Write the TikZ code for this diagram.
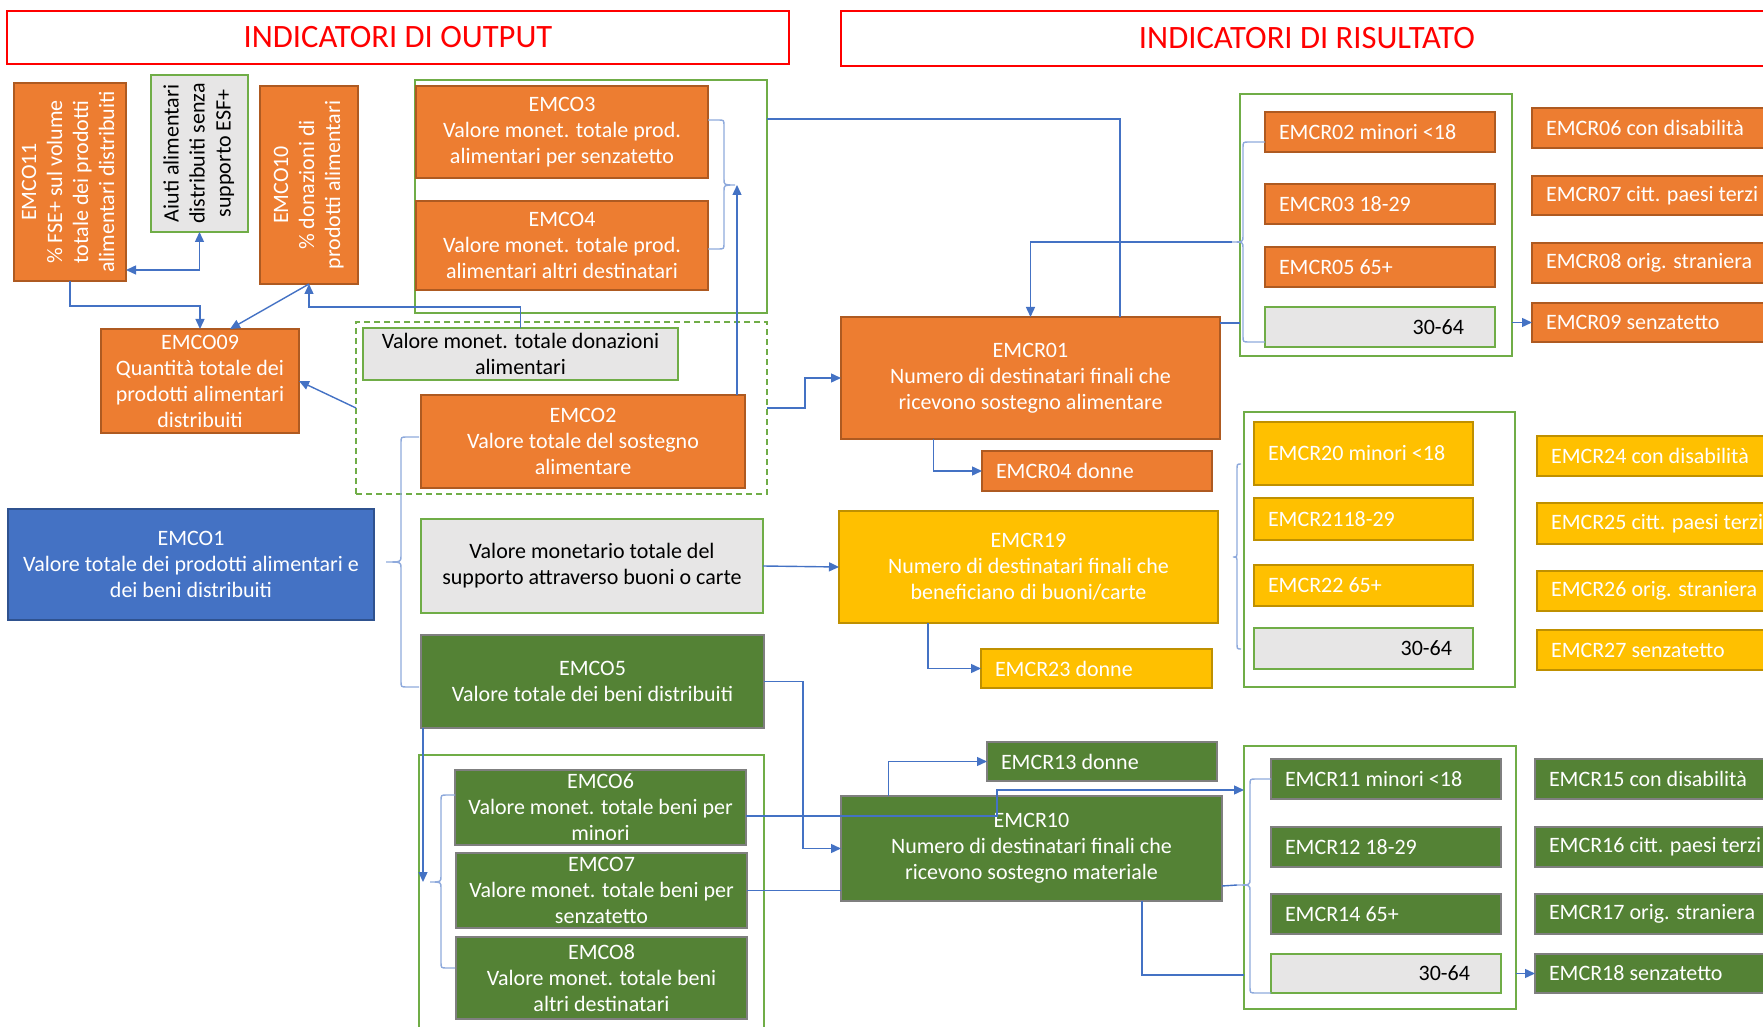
\documentclass[tikz,border=0pt]{standalone}
\usepackage{fontspec}
\setmainfont{Carlito}
\usepackage{graphicx}
\usetikzlibrary{arrows.meta,calc}
\definecolor{orF}{HTML}{ED7D31}
\definecolor{orD}{HTML}{AE5A21}
\definecolor{ylF}{HTML}{FFC000}
\definecolor{ylD}{HTML}{BF9000}
\definecolor{grF}{HTML}{548235}
\definecolor{grD}{HTML}{7F7F7F}
\definecolor{blF}{HTML}{4472C4}
\definecolor{blD}{HTML}{2F528F}
\definecolor{gyF}{HTML}{E7E6E6}
\definecolor{grpG}{HTML}{70AD47}
\definecolor{lnB}{HTML}{4472C4}
\definecolor{brB}{HTML}{8FAADC}
\definecolor{ttR}{HTML}{FF0000}
\tikzset{
 base/.style={inner sep=0pt, outer sep=0pt, line width=1pt, font=\fontsize{11}{13}\selectfont, align=center},
 orbox/.style={base, fill=orF, draw=orD, text=white},
 ylbox/.style={base, fill=ylF, draw=ylD, text=white},
 grbox/.style={base, fill=grF, draw=grD, text=white},
 blbox/.style={base, fill=blF, draw=blD, text=white},
 gybox/.style={base, fill=gyF, draw=grpG, text=black},
 grp/.style={base, draw=grpG},
 grpdash/.style={grp, dash pattern=on 3pt off 2pt},
 titlebox/.style={base, draw=ttR, text=ttR, font=\fontsize{16.3}{19}\selectfont},
 conn/.style={draw=lnB, line width=0.7pt},
 arr/.style={conn, -{Triangle[length=5pt,width=4.5pt]}},
 darr/.style={conn, {Triangle[length=5pt,width=4.5pt]}-{Triangle[length=5pt,width=4.5pt]}},
 brc/.style={draw=brB, line width=0.7pt},
}
\newcommand{\mkbox}[7]{\pgfmathsetmacro{\mybw}{((#5)-(#3))*0.5}\pgfmathsetmacro{\mybh}{((#6)-(#4))*0.5}%
 \node[#2, minimum width=\mybw pt, minimum height=\mybh pt] (#1) at ({((#3)+(#5))/2},{((#4)+(#6))/2}) {#7};}
\newcommand{\mklbox}[7]{\pgfmathsetmacro{\mybw}{((#5)-(#3))*0.5}\pgfmathsetmacro{\mybh}{((#6)-(#4))*0.5}\pgfmathsetmacro{\mytw}{((#5)-(#3)-28)*0.5}%
 \node[#2, align=flush left, inner xsep=7pt, text width=\mytw pt, minimum width=\mybw pt, minimum height=\mybh pt] (#1) at ({((#3)+(#5))/2},{((#4)+(#6))/2}) {#7};}
\newcommand{\mkrtbox}[6]{\pgfmathsetmacro{\mybw}{((#4)-(#2))*0.5}\pgfmathsetmacro{\mybh}{((#5)-(#3))*0.5}\pgfmathsetmacro{\mytw}{((#4)-(#2)-2*(#6))*0.5}\pgfmathsetmacro{\mypad}{(#6)*0.5}%
 \node[gybox, align=flush right, inner xsep=\mypad pt, text width=\mytw pt, minimum width=\mybw pt, minimum height=\mybh pt] (#1) at ({((#2)+(#4))/2},{((#3)+(#5))/2}) {30-64};}
\newcommand{\mkbrace}[7]{%
 \draw[brc] (#1,#2) -- ({#4+(#7)},#2) .. controls (#4,#2) .. (#4,{#2+6}) -- (#4,{#6-6}) .. controls (#4,#6) .. (#5,#6) .. controls (#4,#6) .. (#4,{#6+6}) -- (#4,{#3-6}) .. controls (#4,#3) .. ({#4+(#7)},#3) -- (#1,#3);}
\begin{document}
\begin{tikzpicture}[x=0.5pt,y=-0.5pt]
\useasboundingbox (0,0) rectangle (1763,1027);
\clip (0,0) rectangle (1763,1027);
% titles
\mkbox{tout}{titlebox}{7}{11}{789}{64}{INDICATORI DI OUTPUT}
\mkbox{tris}{titlebox}{841}{11}{1773}{66}{INDICATORI DI RISULTATO}
% group frames
\mkbox{grpA}{grp}{415}{80}{767}{313}{}
\mkbox{grpB}{grpdash}{356}{322}{767}{494}{}
\mkbox{grpC}{grp}{419}{755}{764}{1045}{}
\mkbox{grpD}{grp}{1240}{94}{1512}{356}{}
\mkbox{grpE}{grp}{1244}{412}{1515}{687}{}
\mkbox{grpF}{grp}{1244}{746}{1516}{1009}{}
% output side
\mkbox{emco11}{orbox}{14}{83}{126}{281}{\rotatebox{90}{\begin{tabular}{@{}c@{}}EMCO11\\\% FSE+ sul volume\\totale dei prodotti\\alimentari distribuiti\end{tabular}}}
\mkbox{aiuti}{gybox}{151}{75}{248}{232}{\rotatebox{90}{\begin{tabular}{@{}c@{}}Aiuti alimentari\\distribuiti senza\\supporto ESF+\end{tabular}}}
\mkbox{emco10}{orbox}{260}{86}{358}{284}{\rotatebox{90}{\begin{tabular}{@{}c@{}}EMCO10\\\% donazioni di\\prodotti alimentari\end{tabular}}}
\mkbox{emco09}{orbox}{101}{329}{299}{433}{EMCO09\\Quantità totale dei\\prodotti alimentari\\distribuiti}
\mkbox{emco3}{orbox}{416}{86}{708}{178}{EMCO3\\Valore monet. totale prod.\\alimentari per senzatetto}
\mkbox{emco4}{orbox}{416}{201}{708}{290}{EMCO4\\Valore monet. totale prod.\\alimentari altri destinatari}
\mkbox{donaz}{gybox}{363}{328}{678}{380}{Valore monet. totale donazioni\\alimentari}
\mkbox{emco2}{orbox}{421}{395}{745}{488}{EMCO2\\Valore totale del sostegno\\alimentare}
\mkbox{emco1}{blbox}{8}{509}{374}{620}{EMCO1\\Valore totale dei prodotti alimentari e\\dei beni distribuiti}
\mkbox{buoni}{gybox}{421}{519}{763}{613}{Valore monetario totale del\\supporto attraverso buoni o carte}
\mkbox{emco5}{grbox}{421}{635}{764}{728}{EMCO5\\Valore totale dei beni distribuiti}
\mkbox{emco6}{grbox}{455}{770}{746}{845}{EMCO6\\Valore monet. totale beni per\\minori}
\mkbox{emco7}{grbox}{456}{853}{747}{928}{EMCO7\\Valore monet. totale beni per\\senzatetto}
\mkbox{emco8}{grbox}{456}{937}{747}{1019}{EMCO8\\Valore monet. totale beni\\altri destinatari}
% result side: food
\mkbox{emcr01}{orbox}{841}{317}{1220}{439}{EMCR01\\Numero di destinatari finali che\\ricevono sostegno alimentare}
\mklbox{emcr04}{orbox}{982}{451}{1212}{491}{EMCR04 donne}
\mklbox{emcr02}{orbox}{1265}{112}{1495}{152}{EMCR02 minori <18}
\mklbox{emcr03}{orbox}{1265}{184}{1495}{224}{EMCR03 18-29}
\mklbox{emcr05}{orbox}{1265}{247}{1495}{287}{EMCR05 65+}
\mkrtbox{ga}{1265}{307}{1495}{347}{31}
\mklbox{emcr06}{orbox}{1532}{108}{1800}{148}{EMCR06 con disabilità}
\mklbox{emcr07}{orbox}{1532}{176}{1800}{215}{EMCR07 citt. paesi terzi}
\mklbox{emcr08}{orbox}{1532}{243}{1800}{283}{EMCR08 orig. straniera}
\mklbox{emcr09}{orbox}{1532}{303}{1800}{342}{EMCR09 senzatetto}
% result side: vouchers
\mkbox{emcr19}{ylbox}{839}{511}{1218}{623}{EMCR19\\Numero di destinatari finali che\\beneficiano di buoni/carte}
\mklbox{emcr23}{ylbox}{981}{649}{1212}{688}{EMCR23 donne}
\mklbox{emcr20}{ylbox}{1254}{422}{1473}{485}{EMCR20 minori <18}
\mklbox{emcr21}{ylbox}{1254}{498}{1473}{540}{EMCR2118-29}
\mklbox{emcr22}{ylbox}{1254}{565}{1473}{606}{EMCR22 65+}
\mkrtbox{gb}{1254}{628}{1473}{669}{21}
\mklbox{emcr24}{ylbox}{1537}{436}{1800}{476}{EMCR24 con disabilità}
\mklbox{emcr25}{ylbox}{1537}{503}{1800}{544}{EMCR25 citt. paesi terzi}
\mklbox{emcr26}{ylbox}{1537}{571}{1800}{611}{EMCR26 orig. straniera}
\mklbox{emcr27}{ylbox}{1537}{630}{1800}{670}{EMCR27 senzatetto}
% result side: material
\mkbox{emcr10}{grbox}{841}{796}{1222}{901}{EMCR10\\Numero di destinatari finali che\\ricevono sostegno materiale}
\mklbox{emcr13}{grbox}{987}{742}{1217}{781}{EMCR13 donne}
\mklbox{emcr11}{grbox}{1271}{759}{1501}{799}{EMCR11 minori <18}
\mklbox{emcr12}{grbox}{1271}{827}{1501}{867}{EMCR12 18-29}
\mklbox{emcr14}{grbox}{1271}{894}{1501}{934}{EMCR14 65+}
\mkrtbox{gc}{1271}{954}{1501}{993}{31}
\mklbox{emcr15}{grbox}{1535}{759}{1800}{799}{EMCR15 con disabilità}
\mklbox{emcr16}{grbox}{1535}{827}{1800}{867}{EMCR16 citt. paesi terzi}
\mklbox{emcr17}{grbox}{1535}{894}{1800}{934}{EMCR17 orig. straniera}
\mklbox{emcr18}{grbox}{1535}{954}{1800}{993}{EMCR18 senzatetto}
% braces
\mkbrace{708}{120}{249}{724}{735}{185}{-6}
\mkbrace{419}{437}{687}{401}{386}{562}{6}
\mkbrace{455}{795}{968}{441}{430}{882}{6}
\mkbrace{1265}{142}{342}{1243}{1232}{242}{6}
\mkbrace{1241}{464}{649}{1237}{1233}{557}{4}
\mkbrace{1271}{779}{993}{1250}{1237}{885}{6}
\coordinate (tipA) at (735,185);
\coordinate (tipC) at (430,882);
\coordinate (tipD) at (1232,242);
\coordinate (tipF) at (1237,885);
% connectors
\draw[darr] (aiuti.south) |- ([yshift=5.5pt]emco11.south east);
\draw[arr] (emco11.south) -- ++(0,25) -| (emco09.north);
\draw[arr] (emco10.south) -- ([xshift=15pt]emco09.north);
\draw[arr] (donaz.north) -- ++(0,-21) -| (emco10.south);
\draw[arr] (grpB.west) -- (emco09.east);
\draw[arr] ([xshift=-4pt]emco2.north east) -- ([xshift=-4pt]emco2.north east |- tipA);
\draw[conn] ([yshift=-19.5pt]grpA.north east) -| ([xshift=44.75pt]emcr01.north);
\draw[arr] (grpB.east) -- ++(38,0) |- (emcr01.west);
\draw[arr] (tipD) -| (emcr01.north);
\draw[arr] ([xshift=-48.5pt]emcr01.south) |- (emcr04.west);
\draw[conn] ([yshift=-3pt]emcr01.north east) -- ([yshift=-3pt]emcr01.north east -| grpD.west);
\draw[arr] (grpD.east |- emcr09.west) -- (emcr09.west);
\draw[arr] (buoni.east) -- (emcr19.west);
\draw[arr] ([xshift=-50.25pt]emcr19.south) |- (emcr23.west);
\draw[arr] (emco5.east) -- ++(39,0) |- (emcr10.west);
\draw[arr] ([xshift=1pt]emco5.south west) -- ([xshift=1pt]emco5.south west |- tipC);
\draw[arr] ([yshift=-4.25pt]emco6.east) -- ++(251,0) |- ([yshift=-22pt]grpF.north west);
\draw[conn] (emco7.east) -- (emco7.east -| emcr10.west);
\draw[arr] ([xshift=-71.5pt]emcr10.north) |- (emcr13.west);
\draw[conn] ([yshift=-18.75pt]emcr10.east) -- (tipF);
\draw[conn] ([xshift=55.25pt]emcr10.south) |- ([yshift=-114.5pt]grpF.north west);
\draw[arr] (grpF.east |- emcr18.west) -- (emcr18.west);
\end{tikzpicture}
\end{document}
